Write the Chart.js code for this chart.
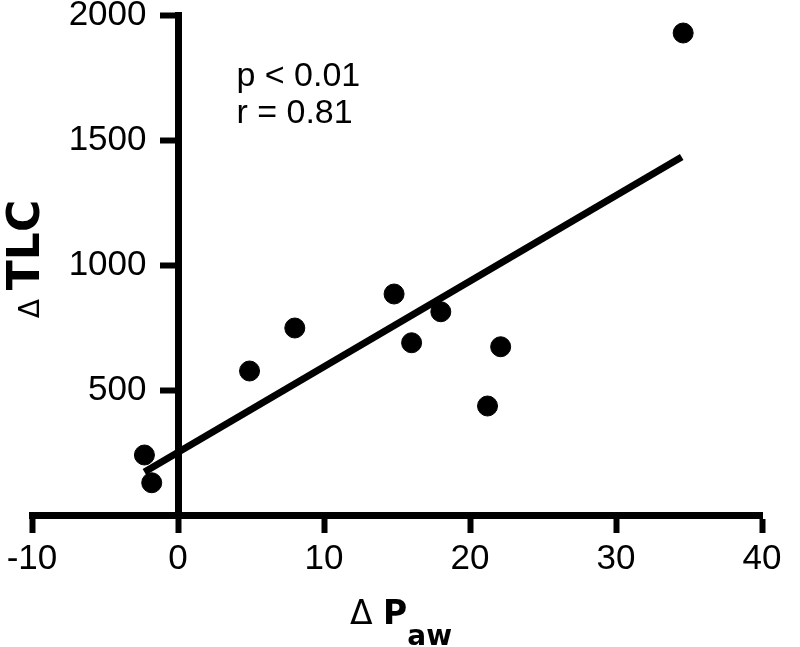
<!DOCTYPE html>
<html>
<head>
<meta charset="utf-8">
<script src="https://cdn.jsdelivr.net/npm/chart.js@4.4.1/dist/chart.umd.min.js"></script>
<style>
  html, body { margin: 0; padding: 0; background: #fff; }
</style>
</head>
<body>
<canvas id="chartTLC" width="800" height="647"></canvas>
<script>
// valeurs : Δ Paw (x) et Δ TLC (y)
const dPaw = [-2.3, -1.8, 4.9, 8.0, 14.8, 16.0, 18.0, 21.2, 22.1, 34.6];
const dTLC = [240, 129, 576, 748, 884, 689, 813, 436, 673, 1928];

// droite de régression (extrémités)
const fitX = [-2.3, 34.5];
const fitY = [172, 1432];

const xTicks = [-10, 0, 10, 20, 30, 40];
const yTicks = [500, 1000, 1500, 2000];

const statsLines = ['p < 0.01', 'r = 0.81'];

const tickFont = { family: '"Liberation Sans", Arial, sans-serif', size: 35 };

// l'axe y est placé en x = 0 : on décale ses étiquettes à gauche des graduations
const shiftYLabels = {
  id: 'shiftYLabels',
  beforeDraw(chart) {
    const s = chart.scales.y;
    const off = s.options.grid.tickLength + s.options.ticks.padding + s.options.border.width / 2;
    s.getLabelItems().forEach(it => {
      if (!it._shifted) {
        it.options.translation[0] -= off;
        it._shifted = true;
      }
    });
  }
};

// textes ajoutés : titres des axes (avec indice) et statistiques
const extraText = {
  id: 'extraText',
  afterDraw(chart) {
    const { ctx, chartArea, scales } = chart;
    ctx.save();
    ctx.fillStyle = '#000';
    ctx.textBaseline = 'alphabetic';
    ctx.textAlign = 'left';

    // p et r
    ctx.font = '34px "Liberation Sans", Arial, sans-serif';
    const sx = scales.x.getPixelForValue(4);
    const sy = scales.y.getPixelForValue(1715);
    statsLines.forEach((t, i) => ctx.fillText(t, sx, sy + i * 37));

    // titre x : Δ P_aw
    const fDelta = '33px "DejaVu Sans", sans-serif';
    const fBold = 'bold 33px "DejaVu Sans", sans-serif';
    const fSub = 'bold 28px "DejaVu Sans", sans-serif';
    ctx.font = fDelta; const w1 = ctx.measureText('Δ ').width;
    ctx.font = fBold; const w2 = ctx.measureText('P').width;
    let x0 = (chartArea.left + chartArea.right) / 2 - 47;
    const by = chartArea.bottom + 109;
    ctx.font = fDelta; ctx.fillText('Δ ', x0, by); x0 += w1;
    ctx.font = fBold; ctx.fillText('P', x0, by); x0 += w2;
    ctx.font = fSub; ctx.fillText('aw', x0, by + 21);

    // titre y : Δ TLC (vertical)
    const fDeltaY = '28px "DejaVu Sans", sans-serif';
    const fBoldY = 'bold 44px "DejaVu Sans", sans-serif';
    ctx.font = fDeltaY; const v1 = ctx.measureText('Δ ').width;
    ctx.font = fBoldY; const v2 = ctx.measureText('TLC').width;
    ctx.translate(39, (chartArea.top + chartArea.bottom) / 2 - 6);
    ctx.rotate(-Math.PI / 2);
    let t0 = -(v1 + v2) / 2;
    ctx.font = fDeltaY; ctx.fillText('Δ ', t0, 0); t0 += v1;
    ctx.font = fBoldY; ctx.fillText('TLC', t0, 0);
    ctx.restore();
  }
};

new Chart(document.getElementById('chartTLC'), {
  type: 'scatter',
  data: {
    datasets: [
      {
        label: 'régression',
        type: 'line',
        data: fitX.map((v, i) => ({ x: v, y: fitY[i] })),
        borderColor: '#000',
        borderWidth: 7,
        borderCapStyle: 'butt',
        pointRadius: 0,
        fill: false
      },
      {
        label: 'sujets',
        data: dPaw.map((v, i) => ({ x: v, y: dTLC[i] })),
        backgroundColor: '#000',
        borderColor: '#000',
        pointRadius: 10,
        pointHoverRadius: 10
      }
    ]
  },
  options: {
    responsive: false,
    animation: false,
    events: [],
    layout: { padding: { left: 32, right: 38, top: 15, bottom: 0 } },
    plugins: { legend: { display: false }, tooltip: { enabled: false } },
    scales: {
      x: {
        type: 'linear',
        position: 'bottom',
        min: -10,
        max: 40,
        afterBuildTicks: s => { s.ticks = xTicks.map(v => ({ value: v })); },
        afterFit: s => { s.height = 132; s.paddingLeft = 0; s.paddingRight = 0; },
        ticks: { font: tickFont, color: '#000', padding: 5, callback: v => String(v) },
        grid: { drawOnChartArea: false, tickLength: 18, tickWidth: 6, tickColor: '#000' },
        border: { color: '#000', width: 7 }
      },
      y: {
        type: 'linear',
        position: { x: 0 },
        min: 0,
        max: 2000,
        afterBuildTicks: s => { s.ticks = yTicks.map(v => ({ value: v })); },
        afterFit: s => { s.width = 0; s.paddingTop = 0; s.paddingBottom = 0; },
        ticks: { font: tickFont, color: '#000', padding: 13, callback: v => String(v) },
        grid: { drawOnChartArea: false, tickLength: 15, tickWidth: 6, tickColor: '#000' },
        border: { color: '#000', width: 7 }
      }
    }
  },
  plugins: [shiftYLabels, extraText]
});
</script>
</body>
</html>
